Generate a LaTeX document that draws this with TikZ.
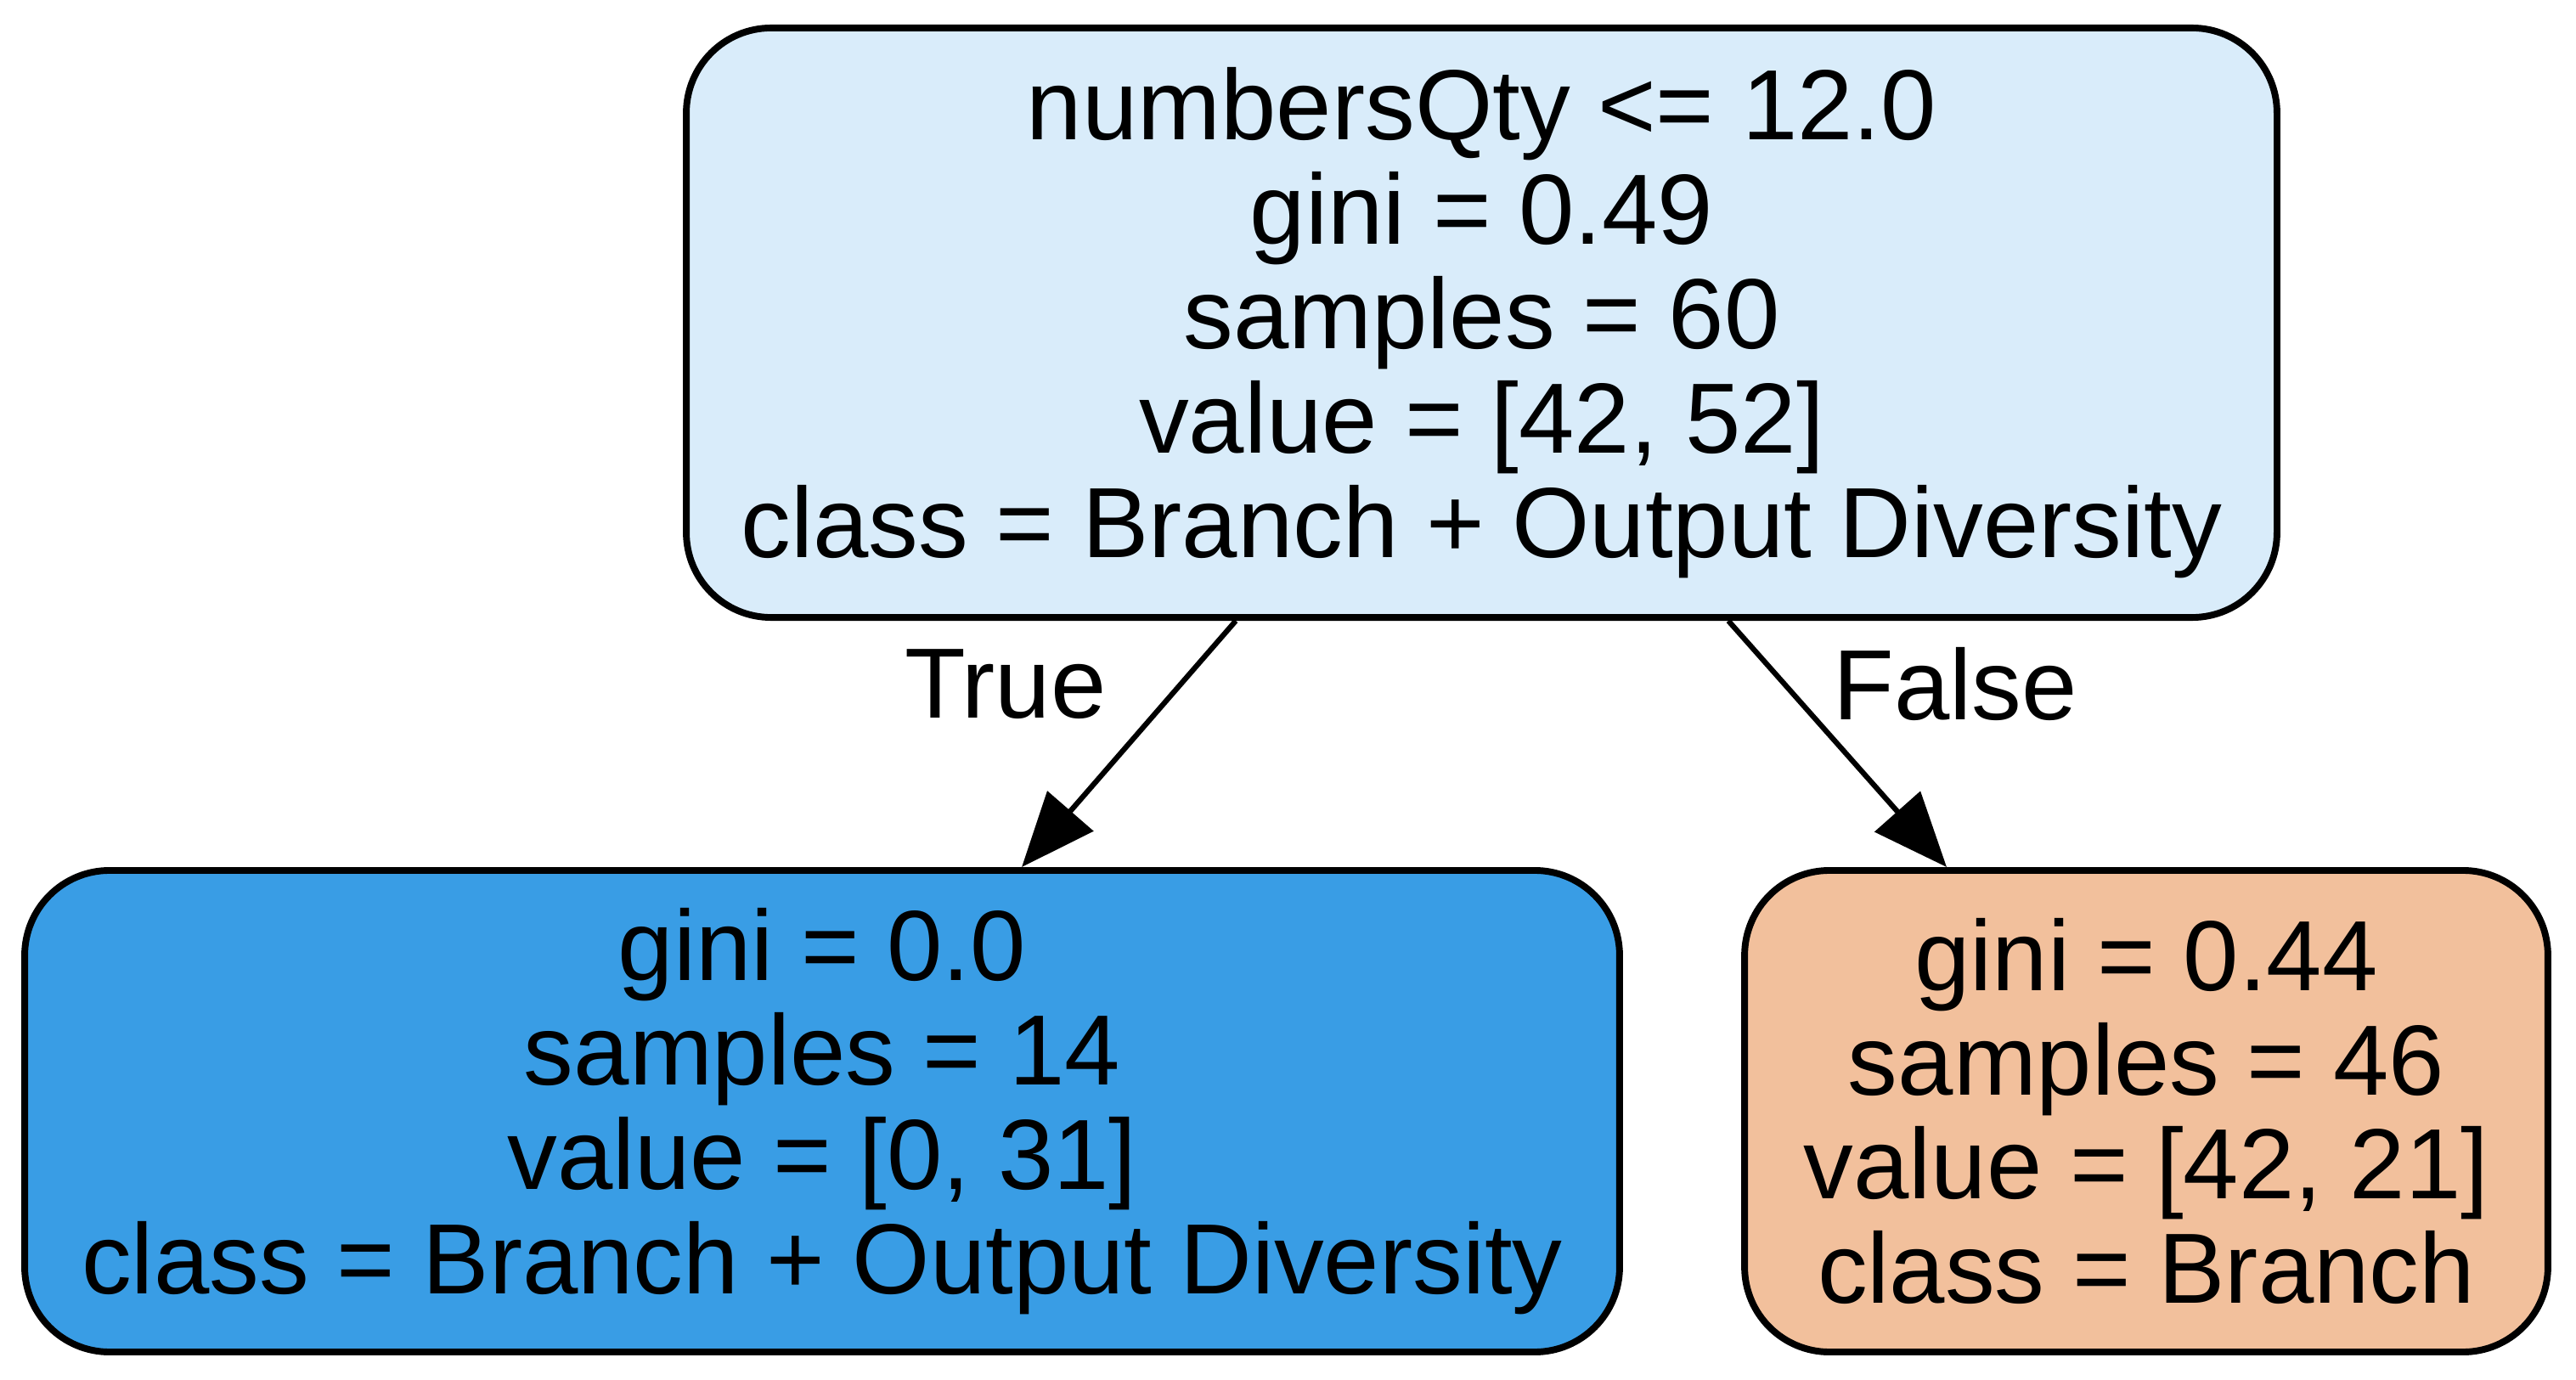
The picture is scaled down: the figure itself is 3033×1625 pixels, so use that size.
\documentclass[tikz,border=0pt]{standalone}
\usepackage{fontspec}
\setmainfont{Liberation Sans}
\usetikzlibrary{arrows.meta,calc}
\definecolor{rootfill}{RGB}{217,236,250}
\definecolor{leftfill}{RGB}{57,157,229}
\definecolor{rightfill}{RGB}{242,192,156}
\tikzset{
  treebox/.style={draw=black, line width=1.9pt, rounded corners=24pt, align=center, inner sep=0pt,
    font=\fontsize{28.2}{29.5}\selectfont},
  edgelbl/.style={font=\fontsize{28.2}{29.5}\selectfont, inner sep=0pt},
  treeedge/.style={line width=1.5pt, -{Triangle[length=21pt,width=17pt]}}
}
\begin{document}
\begin{tikzpicture}[x=0.24pt,y=-0.24pt]
\useasboundingbox (0,0) rectangle (3033,1625);
\node[treebox, fill=rootfill, minimum width=449.5pt, minimum height=166.6pt] (root) at (1744.5,380)
  {numbersQty <= 12.0\\gini = 0.49\\samples = 60\\value = [42, 52]\\class = Branch + Output Diversity};
\node[treebox, fill=leftfill, minimum width=450.7pt, minimum height=136.1pt] (left) at (968,1308.5)
  {gini = 0.0\\samples = 14\\value = [0, 31]\\class = Branch + Output Diversity};
\node[treebox, fill=rightfill, minimum width=227pt, minimum height=136.1pt] (right) at (2527,1308.5)
  {gini = 0.44\\samples = 46\\value = [42, 21]\\class = Branch};
\draw[treeedge] ($(root.south)+(-289.5,0)$) -- ($(left.north)+(235,0)$);
\draw[treeedge] ($(root.south)+(290.5,0)$) -- ($(right.north)+(-235,0)$);
\node[edgelbl] (tlabel) at (1184,806) {True};
\node[edgelbl] (flabel) at (2302,806) {False};
\end{tikzpicture}
\end{document}
